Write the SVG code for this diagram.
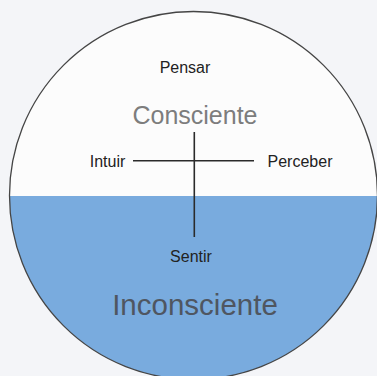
<svg xmlns="http://www.w3.org/2000/svg" width="377" height="376" viewBox="0 0 377 376">
  <style>
    .lbl { font-family: "Liberation Sans", Arial, sans-serif; font-size: 16px; fill: #222; text-anchor: middle; }
    .big { font-family: "Liberation Sans", Arial, sans-serif; text-anchor: middle; }
    .line { stroke: #2b2b2b; stroke-width: 1.6; fill: none; }
  </style>
  <defs>
    <clipPath id="circ">
      <circle cx="193.5" cy="195.5" r="184"/>
    </clipPath>
  </defs>
  <rect x="0" y="0" width="377" height="376" fill="#f4f5f8"/>
  <g id="circle">
    <circle cx="193.5" cy="195.5" r="184" fill="#fcfcfc"/>
    <rect x="0" y="196" width="377" height="190" fill="#79abde" clip-path="url(#circ)"/>
    <circle cx="193.5" cy="195.5" r="184" fill="none" stroke="#454545" stroke-width="1.3"/>
  </g>
  <g id="connectors">
    <line class="line" x1="133" y1="160.7" x2="254" y2="160.7"/>
    <line class="line" x1="194.3" y1="132" x2="194.3" y2="237"/>
  </g>
  <g id="pensar"><text class="lbl" x="185" y="73">Pensar</text></g>
  <g id="consciente"><text class="big" x="195" y="124" font-size="25" fill="#7d7d7d">Consciente</text></g>
  <g id="intuir"><text class="lbl" x="107.5" y="166.7">Intuir</text></g>
  <g id="perceber"><text class="lbl" x="300" y="166.7">Perceber</text></g>
  <g id="sentir"><text class="lbl" x="191" y="261.7">Sentir</text></g>
  <g id="inconsciente"><text class="big" x="195" y="315" font-size="29.5" fill="#4f5661">Inconsciente</text></g>
</svg>
